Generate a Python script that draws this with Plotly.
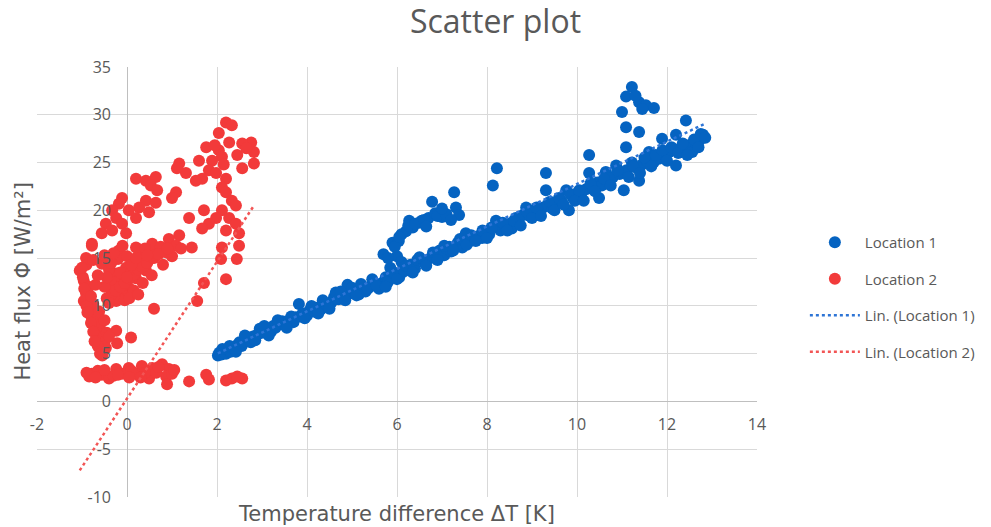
import plotly.graph_objects as go
import numpy as np

# ---------------- data ----------------
loc1_x = [2.02, 2.05, 2.10, 2.15, 2.20, 2.25, 2.30, 2.35, 2.40, 2.45, 2.50, 2.55, 2.60, 2.70, 2.75,
          2.80, 2.90, 2.95, 3.00, 3.10, 3.20, 3.25, 3.30, 3.40, 3.45, 3.50, 3.60, 3.70, 3.75, 3.82,
          3.85, 3.90, 4.00, 4.05, 4.15, 4.20, 4.30, 4.40, 4.45, 4.55, 4.60, 4.64, 4.70, 4.80, 4.90,
          4.95, 5.05, 5.15, 5.25, 5.30, 5.40, 5.50, 5.60, 5.67, 5.70, 5.75, 5.80, 5.85, 5.90, 5.95,
          6.00, 6.04, 6.05, 6.10, 6.15, 6.20, 6.27, 6.30, 6.35, 6.40, 6.45, 6.49, 6.55, 6.60, 6.70,
          6.75, 6.78, 6.85, 6.90, 6.95, 7.00, 7.05, 7.10, 7.16, 7.20, 7.27, 7.31, 7.38, 7.35, 7.45,
          7.53, 7.60, 7.70, 7.80, 7.89, 7.95, 8.05, 8.13, 8.20, 8.22, 8.30, 8.40, 8.50, 8.55, 8.64,
          8.70, 8.80, 8.87, 8.95, 9.05, 9.16, 9.25, 9.31, 9.31, 9.35, 9.45, 9.55, 9.65, 9.76, 9.82,
          9.90, 10.00, 10.10, 10.20, 10.27, 10.27, 10.35, 10.49, 10.45, 10.55, 10.64, 10.70, 10.80, 10.87, 10.95,
          11.04, 11.10, 11.22, 11.38, 11.30, 11.45, 11.60, 11.55, 11.70, 11.82, 11.89, 11.95, 12.05, 12.20, 12.20,
          12.30, 12.42, 12.40, 12.50, 12.56, 12.65, 12.72, 12.78, 12.80,
          11.22, 11.09, 11.38, 11.53, 11.71, 11.00, 11.09, 11.38, 11.09, 11.45, 11.30,
          2.12, 2.28, 2.42, 2.62, 2.85, 3.05, 3.15, 3.35, 3.55, 3.65, 3.95, 4.10, 4.25, 4.35, 4.50,
          4.75, 4.85, 5.00, 5.10, 5.20, 5.35, 5.45, 5.55, 5.75, 5.90, 6.00, 6.20, 6.35, 6.50, 6.65,
          6.80, 6.90, 7.05, 7.25, 7.40, 7.55, 7.65, 7.75, 7.90, 8.00, 8.10, 8.35, 8.45, 8.60, 8.75,
          8.90, 9.00, 9.10, 9.20, 9.40, 9.50, 9.60, 9.70, 9.85, 9.95, 10.05, 10.15, 10.30, 10.40, 10.60,
          10.75, 10.90, 11.15, 11.25, 11.40, 11.50, 11.65, 11.75, 11.90, 12.00, 12.10, 12.25, 12.35, 12.45, 12.60,
          12.70, 12.75, 12.85,
          6.10, 6.25, 6.40, 6.60, 6.90, 7.10, 7.20, 7.00, 6.65, 5.95, 5.80, 6.05]
loc1_y = [4.8, 5.1, 4.9, 5.3, 5.0, 5.4, 5.2, 5.6, 5.5, 5.9, 6.2, 5.8, 6.3, 6.6, 6.2,
          6.8, 7.0, 7.6, 7.2, 7.5, 7.3, 7.9, 7.7, 8.1, 8.4, 8.0, 8.5, 8.3, 8.8, 10.2,
          8.9, 9.2, 9.0, 9.5, 9.4, 9.8, 9.6, 10.3, 9.9, 10.4, 10.9, 11.4, 10.7, 11.1, 12.2,
          11.3, 11.6, 11.2, 11.9, 11.5, 12.0, 12.4, 11.8, 12.4, 15.4, 13.0, 12.5, 14.0, 16.6, 13.3,
          15.2, 16.8, 13.0, 14.6, 13.6, 17.8, 18.9, 14.3, 18.2, 13.9, 14.8, 18.7, 18.9, 14.6, 19.2,
          15.0, 20.9, 19.7, 15.4, 15.8, 19.3, 15.3, 16.0, 16.2, 15.7, 21.9, 20.3, 19.5, 16.6, 16.1,
          17.6, 16.7, 16.9, 17.3, 17.1, 17.7, 17.5, 22.6, 18.9, 24.4, 17.9, 18.3, 18.6, 18.1, 19.2,
          18.9, 19.5, 20.3, 19.4, 19.9, 19.7, 20.3, 23.9, 22.1, 20.6, 20.2, 20.8, 21.0, 22.1, 20.0,
          21.4, 21.8, 21.3, 22.2, 25.8, 23.9, 22.4, 21.3, 22.9, 22.6, 24.0, 23.1, 23.5, 24.7, 23.8,
          22.1, 24.2, 25.0, 23.1, 24.5, 24.8, 26.1, 25.2, 25.0, 25.4, 27.5, 25.8, 26.1, 24.7, 27.9,
          26.5, 29.4, 26.2, 26.8, 26.1, 27.0, 27.3, 27.7, 27.9,
          32.9, 31.9, 31.3, 31.0, 30.7, 30.3, 28.7, 28.2, 26.6, 30.6, 32.0,
          5.5, 5.8, 5.2, 6.9, 6.4, 7.9, 6.9, 8.5, 7.7, 8.9, 8.7, 10.0, 9.2, 10.6, 9.7,
          11.5, 10.6, 11.9, 11.1, 12.3, 11.8, 12.8, 12.1, 12.0, 13.6, 12.8, 14.2, 13.5, 15.1, 14.2,
          15.6, 14.8, 16.3, 15.8, 17.0, 16.4, 17.4, 16.8, 17.9, 17.1, 18.2, 18.7, 17.9, 18.9, 18.4,
          19.8, 19.2, 20.3, 19.4, 20.9, 20.0, 21.3, 20.6, 21.7, 21.0, 22.1, 21.0, 22.8, 22.0, 23.3,
          22.6, 24.2, 23.5, 24.6, 23.9, 25.5, 24.6, 25.8, 26.3, 25.2, 26.6, 26.0, 27.0, 25.8, 27.4,
          26.6, 28.0, 27.6,
          17.5, 18.4, 18.6, 19.0, 19.4, 19.6, 19.0, 20.2, 18.3, 16.2, 15.0, 17.2]

loc2_x = [2.20, 2.33, 2.04, 2.76, 2.27, 2.56, 1.76, 2.82, 2.04, 1.60, 1.89, 2.11, 2.82, 2.56, 1.16,
          1.31, 1.11, 1.82, 1.67, 2.20, 1.98, 1.53, 2.11, 2.20, 2.45, 2.65, 1.95, 2.15,
          0.20, 0.42, 0.64, 0.53, 0.67, 1.09, 1.00, -0.11, -0.18, 0.42, 0.64, 0.27, -0.33, 0.04, -0.24,
          0.49, 0.20, -0.47, -0.11, -0.56, -0.33, -0.02, -0.78,
          2.33, 2.42, 2.11, 1.71, 1.98, 2.27, 1.38, 1.82, 2.42, 1.67, 2.20, 2.49, 1.16, 0.93,
          -0.78, 2.11, 2.49, 2.09, 2.44, 2.20, 1.71, 1.56, 0.60, 0.09, -0.24, -0.22, 1.44,
          -0.91, -1.05, -0.96, -0.91, -0.84, -0.78, -0.69, -0.62, -0.56, -0.47, -0.96, -0.90, -0.85, -0.75,
          -0.70, -0.60, -0.55, -0.50, -0.65, -0.98,
          -0.56, -0.24, -0.33, -0.24, 0.04, 0.20, 0.42, -0.02, 0.33, 0.64, 0.87, 1.09, 0.56, 0.20, -0.18,
          0.27, -0.11, -0.18, -0.30, -0.10, 0.10, 0.30, 0.50, 0.75, -0.40, -0.20, 0.00, 0.15, -0.05, 0.35,
          0.55, 0.80, 1.00, 1.20,
          -0.45, -0.35, -0.25, -0.15, -0.05, 0.05, 0.15, 0.25, 0.35, 0.45, 0.60, 0.70, 0.90, -0.50,
          -0.45, -0.35, -0.30, -0.50, -0.15, 0.00, 0.10, 0.20, -0.10, 0.40, 0.45, 0.05, 0.25, -0.40,
          -1.00, -0.95, -0.90, -0.88, -0.80, -0.75, -0.72, -0.60, -0.55, -0.80, -0.70, -0.65, -0.75,
          -0.62, -0.50, -0.45, -0.40,
          -0.78, -0.56, -0.24, 0.04, 0.33, 0.56, 0.78, 0.93, 0.49, 0.87, 0.89, 1.38, 1.76, 1.82, 2.33,
          2.56, 0.20, -0.11, -0.40, -0.84, -0.65, 0.65, 1.00, -0.30, 2.45, 2.20,
          -0.50, -0.20, 0.10, 0.40, 0.70, 1.05, -0.90, -0.70, 0.30, 0.05]
loc2_y = [29.2, 28.9, 28.1, 27.1, 27.1, 27.0, 26.6, 26.1, 26.3, 25.2, 25.2, 25.6, 24.9, 24.4, 24.9,
          23.9, 24.4, 24.2, 23.3, 23.3, 23.9, 23.1, 22.4, 21.9, 25.8, 26.5, 26.8, 24.8,
          23.3, 23.1, 23.5, 22.6, 22.1, 21.9, 21.3, 21.3, 20.7, 21.0, 20.8, 20.3, 20.0, 20.0, 19.2,
          19.8, 19.2, 18.6, 18.6, 17.6, 17.9, 17.6, 16.5,
          21.0, 20.5, 20.0, 20.0, 19.2, 19.2, 19.2, 18.6, 18.6, 18.1, 17.9, 17.6, 17.4, 17.0,
          16.3, 16.1, 16.3, 14.9, 14.9, 12.8, 12.4, 10.5, 9.7, 6.7, 7.4, 6.1, 16.1,
          15.0, 13.7, 12.6, 11.3, 9.8, 8.7, 7.7, 6.6, 5.3, 5.6, 10.5, 14.3, 12.0, 10.2,
          9.0, 8.0, 7.0, 6.2, 5.8, 13.0,
          14.4, 13.4, 11.9, 10.5, 11.9, 12.9, 13.7, 14.0, 15.5, 15.8, 15.6, 16.3, 16.5, 16.1, 15.8,
          14.4, 11.3, 10.8, 12.5, 12.8, 13.5, 14.8, 14.9, 16.2, 13.8, 14.9, 15.2, 11.6, 10.6, 12.4,
          13.2, 14.3, 15.2, 16.0,
          10.8, 11.2, 11.6, 12.0, 12.4, 12.9, 13.3, 13.8, 14.1, 14.5, 15.0, 15.4, 16.0, 12.0,
          13.0, 14.5, 15.5, 15.3, 13.5, 13.0, 14.3, 15.0, 16.3, 16.0, 15.3, 10.8, 11.2, 10.3,
          14.0, 11.8, 10.0, 9.3, 8.2, 7.3, 6.3, 5.0, 4.8, 11.0, 12.2, 13.2, 14.8,
          9.4, 8.5, 7.2, 6.8,
          2.9, 2.8, 3.4, 3.5, 3.7, 3.5, 3.9, 3.4, 2.4, 2.6, 1.8, 2.1, 2.8, 2.3, 2.4,
          2.4, 2.9, 2.9, 2.4, 2.6, 3.2, 3.0, 2.9, 2.7, 2.6, 2.2,
          3.3, 2.8, 3.2, 3.0, 3.6, 3.3, 3.0, 2.5, 2.5, 2.5]

# linear trendline coefficients
trend1_slope, trend1_intercept = 2.22, 0.55
trend2_slope, trend2_intercept = 7.16, 0.30

x_ticks = [-2, 0, 2, 4, 6, 8, 10, 12, 14]
x_tick_text = ["-2", "0", "2", "4", "6", "8", "10", "12", "14"]
y_ticks = [-10, -5, 0, 5, 10, 15, 20, 25, 30, 35]
y_tick_text = ["-10", "-5", "0", "5", "10", "15", "20", "25", "30", "35"]

names = ["Location 1", "Location 2", "Lin. (Location 1)", "Lin. (Location 2)"]
blue = "#0563C1"
red = "#F23A3A"
blue_line = "#2E75D6"
red_line = "#F25555"
text_gray = "#595959"
FONT = "Open Sans"
WIDE = "DejaVu Sans"

# ---------------- figure ----------------
fig = go.Figure()
fig.add_trace(go.Scatter(x=loc1_x, y=loc1_y, mode="markers", name=names[0],
                         marker=dict(color=blue, size=12, line=dict(width=0)),
                         legendgroup="a"))
fig.add_trace(go.Scatter(x=loc2_x, y=loc2_y, mode="markers", name=names[1],
                         marker=dict(color=red, size=12, line=dict(width=0)),
                         legendgroup="b"))

t1x = np.array([min(loc1_x), max(loc1_x)])
t2x = np.array([min(loc2_x), max(loc2_x)])
fig.add_trace(go.Scatter(x=t1x, y=trend1_slope * t1x + trend1_intercept, mode="lines",
                         name=names[2], line=dict(color=blue_line, width=2.5, dash="dot"),
                         legendgroup="c"))
fig.add_trace(go.Scatter(x=t2x, y=trend2_slope * t2x + trend2_intercept, mode="lines",
                         name=names[3], line=dict(color=red_line, width=2.5, dash="dot"),
                         legendgroup="d"))

axis_common = dict(showgrid=True, gridcolor="#D9D9D9", gridwidth=1,
                   zeroline=True, zerolinecolor="#BFBFBF", zerolinewidth=1,
                   showline=False, ticks="",
                   tickfont=dict(family=FONT, size=16, color=text_gray),
                   anchor="free")

fig.update_layout(
    width=991, height=527,
    paper_bgcolor="white", plot_bgcolor="white",
    margin=dict(l=37, r=233, t=67, b=30),
    title=dict(text="Scatter plot", x=0.5, xref="container", xanchor="center",
               y=1 - 22 / 527, yref="container", yanchor="middle",
               font=dict(family=FONT, size=32, color=text_gray)),
    xaxis=dict(range=[-2, 14], tickvals=x_ticks, ticktext=x_tick_text, position=10 / 45,
               ticklabelstandoff=12, **axis_common),
    yaxis=dict(range=[-10, 35], tickvals=y_ticks, ticktext=y_tick_text, position=2 / 16,
               ticklabelstandoff=16, **axis_common),
    legend=dict(x=1.065, y=0.465, xanchor="left", yanchor="middle",
                traceorder="grouped", tracegroupgap=14, itemwidth=50,
                font=dict(family=FONT, size=15, color=text_gray),
                bgcolor="rgba(0,0,0,0)"),
    showlegend=True,
    annotations=[
        dict(text="Temperature difference ΔT [K]", xref="paper", yref="paper",
             x=0.4993, y=-0.04, xanchor="center", yanchor="middle", showarrow=False,
             font=dict(family=WIDE, size=21, color=text_gray)),
        dict(text="Heat flux Φ [W/m²]", xref="paper", yref="paper",
             x=-0.02, y=0.5, xanchor="center", yanchor="middle", showarrow=False,
             textangle=-90, font=dict(family=WIDE, size=21, color=text_gray)),
    ],
)

fig.write_html("out.html")
